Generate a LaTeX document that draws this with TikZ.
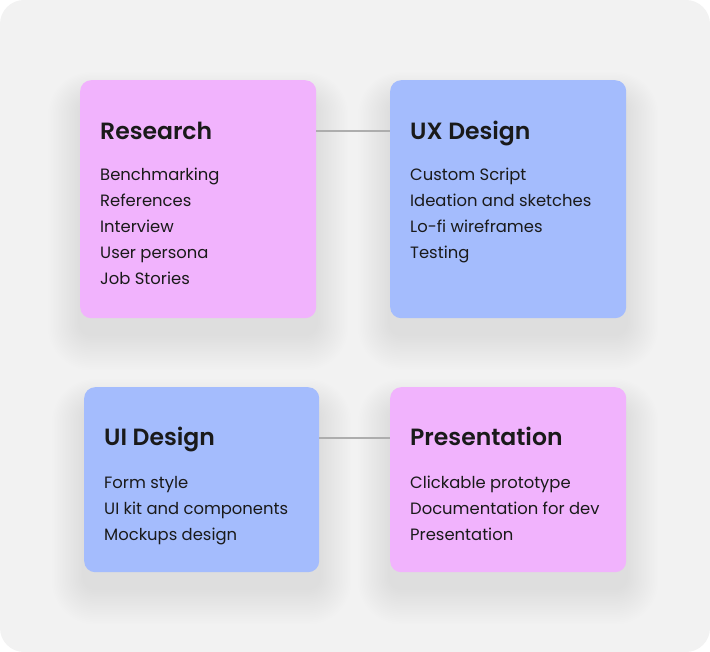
\documentclass[tikz,border=0pt]{standalone}
\usepackage{fontspec}
\setmainfont{Poppins}[BoldFont={Poppins SemiBold}]
\usetikzlibrary{backgrounds}
\definecolor{bgc}{HTML}{F2F2F2}
\definecolor{pinkc}{HTML}{F1B3FD}
\definecolor{bluec}{HTML}{A4BCFD}
\definecolor{linec}{HTML}{ADADAD}
\definecolor{txtc}{HTML}{1A1A1A}
\tikzset{
  card/.style={rectangle, rounded corners=11pt, anchor=north west, inner sep=0pt},
  ttl/.style={anchor=base west, inner sep=0pt, font=\fontsize{23.5}{28}\selectfont\bfseries, text=txtc},
  itm/.style={anchor=base west, inner sep=0pt, font=\fontsize{16.4}{20}\selectfont, text=txtc},
  conn/.style={draw=linec, line width=1.1pt},
  shad/.style={fill=black, opacity=0.0035}
}
\newcommand{\mycardshadow}[1]{%
  \foreach \i in {1,...,20}{%
    \fill[shad, rounded corners={11pt+1.6pt*\i}]
      ([xshift={-1.6pt*\i}, yshift={-20pt+1.4pt*\i}]#1.north west)
      rectangle ([xshift={1.6pt*\i}, yshift={-16pt-1.8pt*\i}]#1.south east);
  }%
}
\begin{document}
\begin{tikzpicture}[x=1pt,y=-1pt]
\useasboundingbox (0,0) rectangle (710,652);
% cards
\node[card, fill=pinkc, minimum width=236pt, minimum height=238pt] (res) at (80,80) {};
\node[card, fill=bluec, minimum width=236pt, minimum height=238pt] (ux) at (390,80) {};
\node[card, fill=bluec, minimum width=235pt, minimum height=185pt] (ui) at (84,387) {};
\node[card, fill=pinkc, minimum width=236pt, minimum height=185pt] (pres) at (390,387) {};
\begin{pgfonlayer}{background}
\fill[bgc, rounded corners=24pt] (0,0) rectangle (710,652);
\mycardshadow{res}
\mycardshadow{ux}
\mycardshadow{ui}
\mycardshadow{pres}
\end{pgfonlayer}
% connectors
\draw[conn] ([yshift=-51pt]res.north east) -- ([yshift=-51pt]ux.north west);
\draw[conn] ([yshift=-51pt]ui.north east) -- ([yshift=-51pt]pres.north west);
% Research
\node[ttl] (t1) at (100,140) {Research};
\node[itm] (r1) at (100,181) {Benchmarking};
\node[itm] (r2) at (100,207) {References};
\node[itm] (r3) at (100,233) {Interview};
\node[itm] (r4) at (100,259) {User persona};
\node[itm] (r5) at (100,285) {Job Stories};
% UX Design
\node[ttl] (t2) at (410,140) {UX Design};
\node[itm] (u1) at (410,181) {Custom Script};
\node[itm] (u2) at (410,207) {Ideation and sketches};
\node[itm] (u3) at (410,233) {Lo-fi wireframes};
\node[itm] (u4) at (410,259) {Testing};
% UI Design
\node[ttl] (t3) at (104,446) {UI Design};
\node[itm] (i1) at (104,488) {Form style};
\node[itm] (i2) at (104,514) {UI kit and components};
\node[itm] (i3) at (104,540) {Mockups design};
% Presentation
\node[ttl] (t4) at (410,446) {Presentation};
\node[itm] (p1) at (410,488) {Clickable prototype};
\node[itm] (p2) at (410,514) {Documentation for dev};
\node[itm] (p3) at (410,540) {Presentation};
\end{tikzpicture}
\end{document}
